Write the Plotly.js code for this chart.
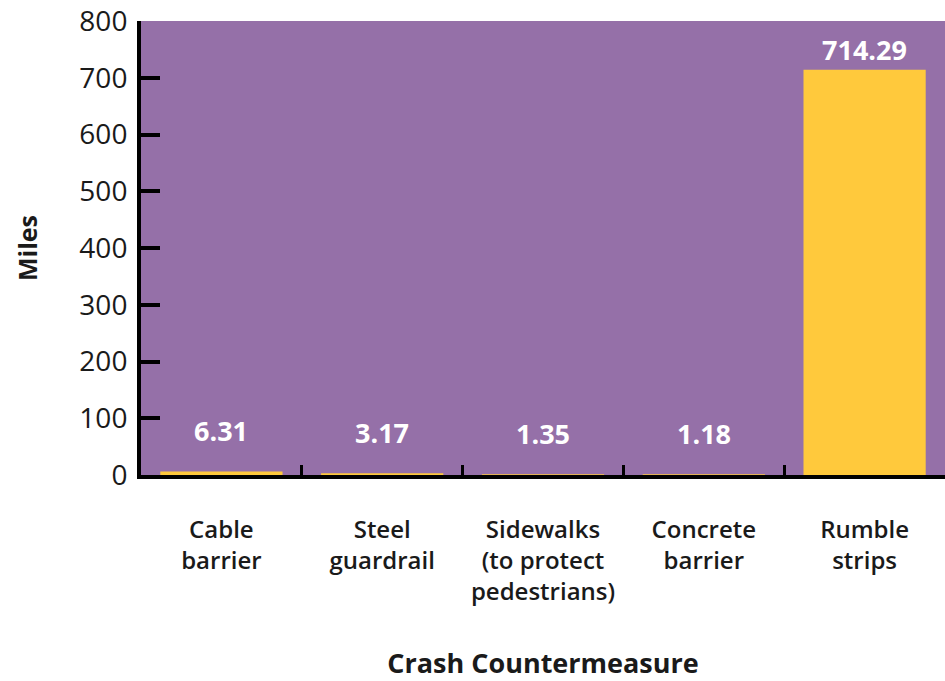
<!DOCTYPE html>
<html><head><meta charset="utf-8">
<script src="https://cdn.plot.ly/plotly-3.0.1.min.js"></script>
<style>html,body{margin:0;padding:0;background:#fff}</style>
</head><body><div id="chart" style="width:945px;height:681px"></div>
<script>
const categories = ["Cable<br>barrier", "Steel<br>guardrail", "Sidewalks<br>(to protect<br>pedestrians)", "Concrete<br>barrier", "Rumble<br>strips"];
const miles = [6.31, 3.17, 1.35, 1.18, 714.29];
const valueLabels = ["6.31", "3.17", "1.35", "1.18", "714.29"];

const FONT = "Open Sans, Lato, sans-serif";
const annotations = miles.map((v, i) => ({
  x: categories[i], y: v, xref: "x", yref: "y",
  text: "<b>" + valueLabels[i] + "</b>", showarrow: false,
  yanchor: "bottom", yshift: v > 100 ? 0 : 20,
  font: {family: FONT, size: 27, color: "#ffffff"}
}));

const trace = {
  type: "bar", x: categories, y: miles,
  marker: {color: "#FFC93C"}, hoverinfo: "none"
};
const layout = {
  width: 945, height: 681,
  margin: {l: 141, r: 0, t: 21, b: 206},
  paper_bgcolor: "#ffffff", plot_bgcolor: "#9570A8",
  bargap: 0.24, showlegend: false,
  font: {family: FONT, color: "#1a1a1a"},
  xaxis: {
    showline: true, linecolor: "#000", linewidth: 4,
    ticks: "inside", tickson: "boundaries", ticklen: 10, tickwidth: 3, tickcolor: "#000",
    tickangle: 0,
    tickfont: {family: FONT, size: 24, weight: 600, color: "#1a1a1a"},
    ticklabelstandoff: 30,
    showgrid: false, zeroline: false, automargin: false,
    title: {text: "<b>Crash Countermeasure</b>", font: {family: FONT, size: 27, color: "#1a1a1a"}, standoff: 54}
  },
  yaxis: {
    range: [0, 800], dtick: 100, tick0: 0,
    showline: true, linecolor: "#000", linewidth: 4, mirror: false,
    ticks: "inside", ticklen: 19, tickwidth: 4, tickcolor: "#000",
    tickfont: {family: FONT, size: 28, color: "#1a1a1a"},
    ticklabelstandoff: 4,
    showgrid: false, zeroline: false, automargin: false,
    title: {text: "<b>Miles</b>", font: {family: FONT, size: 25, color: "#1a1a1a"}, standoff: 36}
  },
  annotations: annotations
};
Plotly.newPlot("chart", [trace], layout, {displayModeBar: false, staticPlot: true});
</script></body></html>
